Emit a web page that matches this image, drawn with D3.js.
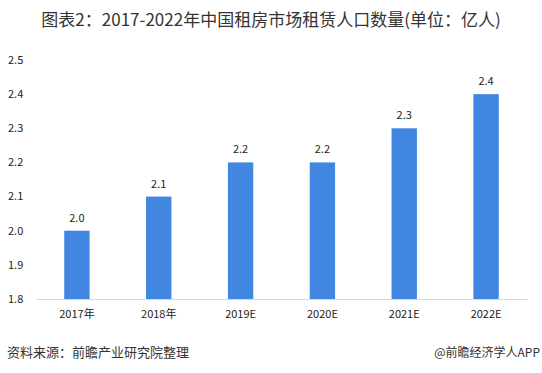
<!DOCTYPE html>
<html>
<head>
<meta charset="utf-8">
<script src="https://cdn.jsdelivr.net/npm/d3@7"></script>
<style>
  body { margin: 0; background: #fff; }
  text { font-family: "Microsoft YaHei", "Noto Sans CJK SC", "DejaVu Sans", sans-serif; }
</style>
</head>
<body>
<div id="main"></div>
<script>
let years = ["2017年", "2018年", "2019E", "2020E", "2021E", "2022E"]
let values = [2.0, 2.1, 2.2, 2.2, 2.3, 2.4]
let yTicks = [1.8, 1.9, 2.0, 2.1, 2.2, 2.3, 2.4, 2.5]

let W = 542, H = 373
let margin = {top: 60, right: 15, bottom: 74, left: 36},
    width = W - margin.left - margin.right,
    height = H - margin.top - margin.bottom

let svg = d3.select("#main").append("svg")
    .attr("width", W)
    .attr("height", H)

svg.append("text")
    .attr("x", W / 2)
    .attr("y", 26)
    .attr("text-anchor", "middle")
    .attr("font-size", "17px")
    .attr("fill", "#333")
    .text("图表2：2017-2022年中国租房市场租赁人口数量(单位：亿人)")

let g = svg.append("g")
    .attr("transform", "translate(" + margin.left + "," + margin.top + ")")

let x = d3.scaleBand()
    .domain(years)
    .range([0, width])
    .paddingInner(0.69)
    .paddingOuter(0.345)

let y = d3.scaleLinear()
    .domain([1.8, 2.5])
    .range([height, 0])

// y labels, no axis line
g.selectAll(".ylab")
    .data(yTicks)
    .enter()
    .append("text")
    .attr("class", "ylab")
    .attr("x", 8 - margin.left)
    .attr("y", d => y(d))
    .attr("dy", "0.35em")
    .attr("font-size", "11px")
    .attr("fill", "#222")
    .text(d => d.toFixed(1))

g.selectAll(".bar")
    .data(values)
    .enter()
    .append("rect")
    .attr("class", "bar")
    .attr("x", (d, i) => x(years[i]))
    .attr("y", d => y(d))
    .attr("width", x.bandwidth())
    .attr("height", d => height - y(d))
    .attr("fill", "#4187e1")

g.selectAll(".val")
    .data(values)
    .enter()
    .append("text")
    .attr("class", "val")
    .attr("x", (d, i) => x(years[i]) + x.bandwidth() / 2)
    .attr("y", d => y(d) - 9)
    .attr("text-anchor", "middle")
    .attr("font-size", "11px")
    .attr("fill", "#222")
    .text(d => d.toFixed(1))

let xAxis = g.append("g")
    .attr("transform", "translate(0," + height + ")")
    .call(d3.axisBottom(x).tickSize(0).tickPadding(11))

xAxis.select(".domain").attr("stroke", "#d9d9d9")
xAxis.selectAll("text")
    .attr("font-size", "11px")
    .attr("fill", "#222")
    .style("font-family", "\"Microsoft YaHei\", \"Noto Sans CJK SC\", sans-serif")

svg.append("text")
    .attr("x", 7)
    .attr("y", 357)
    .attr("font-size", "13px")
    .attr("fill", "#333")
    .text("资料来源：前瞻产业研究院整理")

svg.append("text")
    .attr("x", 540)
    .attr("y", 357)
    .attr("text-anchor", "end")
    .attr("font-size", "12px")
    .attr("fill", "#333")
    .text("@前瞻经济学人APP")
</script>
</body>
</html>
